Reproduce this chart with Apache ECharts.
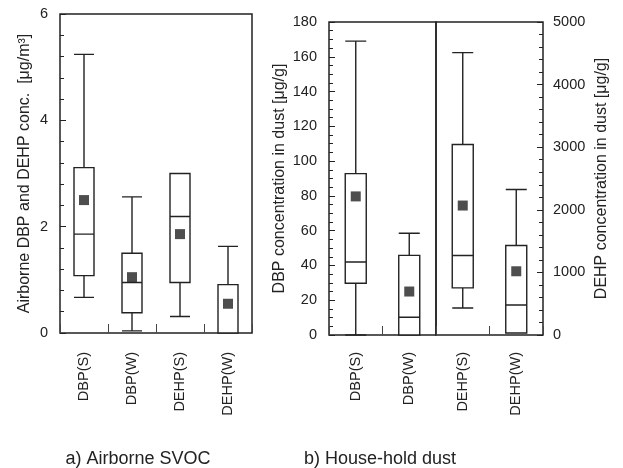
<!DOCTYPE html>
<html>
<head>
<meta charset="utf-8">
<script src="https://cdn.jsdelivr.net/npm/echarts@6/dist/echarts.min.js"></script>
<style>html,body{margin:0;padding:0;background:#fff;}#c{width:623px;height:468px;}</style>
</head>
<body>
<div id="c"></div>
<script>
// Panel a) Airborne SVOC [μg/m3]
const airCats = ['DBP(S)', 'DBP(W)', 'DEHP(S)', 'DEHP(W)'];
// [min, Q1, median, Q3, max]
const airBox = [
  [0.67, 1.08, 1.86, 3.11, 5.24],
  [0.04, 0.38, 0.95, 1.50, 2.56],
  [0.31, 0.95, 2.19, 3.00, 3.00],
  [0.00, 0.00, 0.00, 0.91, 1.63]
];
const airMean = [2.50, 1.05, 1.86, 0.55];

// Panel b) House-hold dust, DBP [μg/g]
const dbpCats = ['DBP(S)', 'DBP(W)'];
const dbpBox = [
  [0, 29.8, 42, 92.8, 169],
  [0, 0, 10.2, 45.8, 58.5]
];
const dbpMean = [79.7, 25];

// Panel b) House-hold dust, DEHP [μg/g]
const dehpCats = ['DEHP(S)', 'DEHP(W)'];
const dehpBox = [
  [432, 752, 1269, 3044, 4510],
  [30, 32, 480, 1429, 2324]
];
const dehpMean = [2068, 1018];

const airTicks = {min: 0, max: 6, interval: 2};
const dbpTicks = {min: 0, max: 180, interval: 20};
const dehpTicks = {min: 0, max: 5000, interval: 1000};

const FONT = '"Liberation Sans", Arial, sans-serif';
const INK = '#222';

function gridDef(left, top, width, height) {
  return {left, top, width, height, show: true, borderColor: INK, borderWidth: 1.5, backgroundColor: 'transparent', containLabel: false};
}
function xAx(gi, cats, margin) {
  return {
    type: 'category', gridIndex: gi, data: cats, boundaryGap: true,
    axisLine: {show: false},
    axisTick: {show: true, inside: true, length: 9, lineStyle: {color: '#444', width: 1}},
    axisLabel: {rotate: 90, margin: margin, fontSize: 14.5, color: INK, fontFamily: FONT},
    splitLine: {show: false}
  };
}
function yAx(gi, t, pos, minorSplit, name, gap) {
  return {
    type: 'value', gridIndex: gi, position: pos, min: t.min, max: t.max, interval: t.interval,
    axisLine: {show: false},
    axisTick: {show: true, inside: true, length: 6, lineStyle: {color: INK, width: 1}},
    minorTick: {show: true, splitNumber: minorSplit, length: 4, lineStyle: {color: INK, width: 1}},
    axisLabel: {fontSize: 14.5, color: INK, fontFamily: FONT, margin: pos === 'right' ? 10 : 12,
                formatter: function (v) { return String(v); }},
    splitLine: {show: false}, minorSplitLine: {show: false},
    name: name, nameLocation: 'middle', nameGap: gap,
    nameTextStyle: {fontSize: 16, color: INK, fontFamily: FONT}
  };
}
function boxSeries(gi, data, w) {
  return {
    type: 'boxplot', xAxisIndex: gi, yAxisIndex: gi, data: data, boxWidth: [w, w],
    itemStyle: {color: '#fff', borderColor: INK, borderWidth: 1.4},
    emphasis: {disabled: true}, silent: true, z: 3
  };
}
function meanSeries(gi, data) {
  return {
    type: 'scatter', xAxisIndex: gi, yAxisIndex: gi, data: data,
    symbol: 'rect', symbolSize: 10, itemStyle: {color: INK}, silent: true, z: 5
  };
}

const chart = echarts.init(document.getElementById('c'), null, {renderer: 'canvas'});
chart.setOption({
  animation: false,
  backgroundColor: '#fff',
  title: [
    {text: 'a) Airborne SVOC', left: 133, top: 445, textAlign: 'center',
     textStyle: {fontSize: 18, fontWeight: 'normal', color: INK, fontFamily: FONT}},
    {text: 'b) House-hold dust', left: 375, top: 445, textAlign: 'center',
     textStyle: {fontSize: 18, fontWeight: 'normal', color: INK, fontFamily: FONT}}
  ],
  grid: [
    gridDef(60, 14, 192, 319),
    gridDef(329, 22, 107, 313),
    gridDef(436, 22, 107, 313)
  ],
  xAxis: [
    xAx(0, airCats, 19),
    xAx(1, dbpCats, 17),
    xAx(2, dehpCats, 17)
  ],
  yAxis: [
    yAx(0, airTicks, 'left', 5, 'Airborne DBP and DEHP conc.  [μg/m³]', 27),
    yAx(1, dbpTicks, 'left', 4, 'DBP concentration in dust [μg/g]', 41),
    yAx(2, dehpTicks, 'right', 5, 'DEHP concentration in dust [μg/g]', 51)
  ],
  series: [
    boxSeries(0, airBox, 20),
    meanSeries(0, airMean),
    boxSeries(1, dbpBox, 21),
    meanSeries(1, dbpMean),
    boxSeries(2, dehpBox, 21),
    meanSeries(2, dehpMean)
  ]
});
</script>
</body>
</html>
